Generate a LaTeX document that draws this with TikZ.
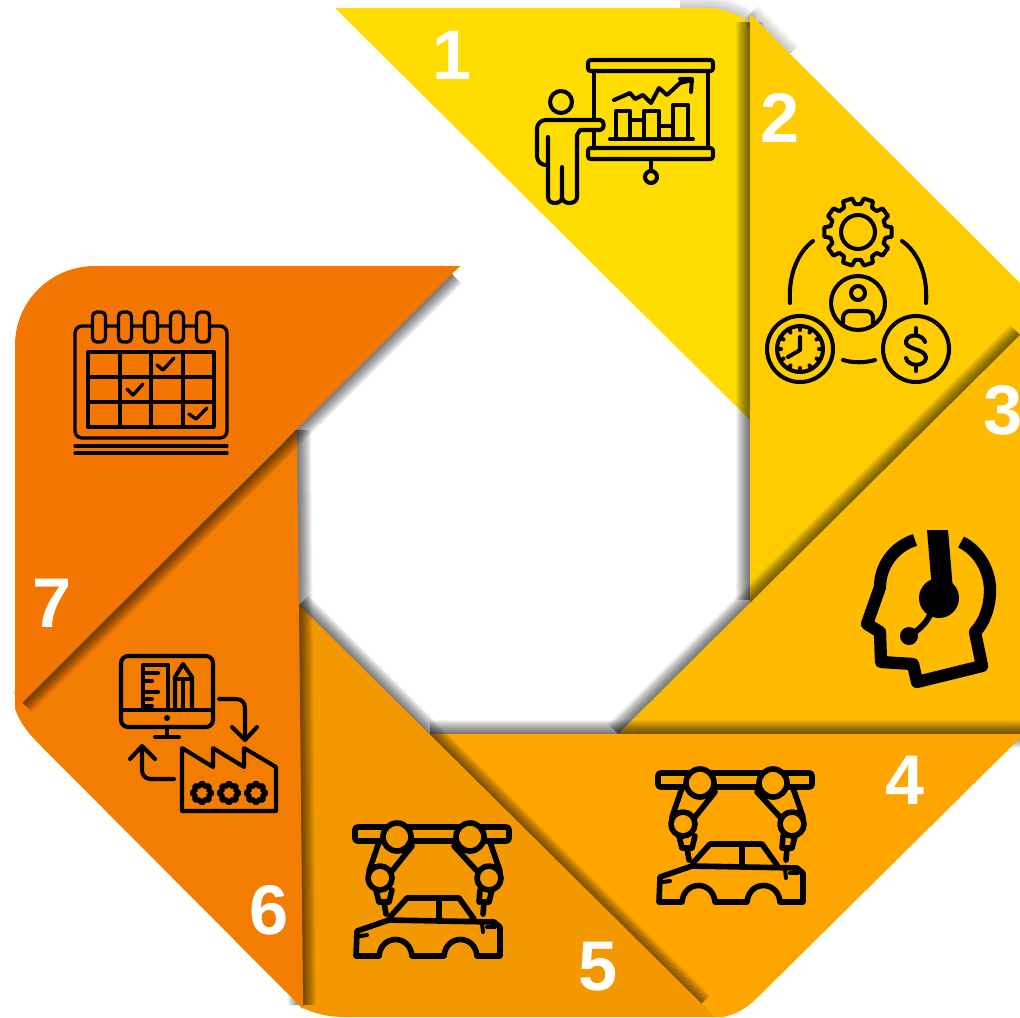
\documentclass[tikz,border=0pt]{standalone}
\usepackage{fontspec}
\usepackage{xcolor}
\usetikzlibrary{calc}
\setmainfont{Liberation Sans}
\definecolor{segyellow}{HTML}{FFDD00}
\definecolor{seggold}{HTML}{FFCC00}
\definecolor{segamber}{HTML}{FFBB00}
\definecolor{segorange}{HTML}{FFA500}
\definecolor{segdeep}{HTML}{F39800}
\definecolor{segdark}{HTML}{F27D00}
\definecolor{segrust}{HTML}{F27600}
\tikzstyle{numlabel} = [text=white, font=\fontsize{40}{40}\selectfont\bfseries, inner sep=0pt]
\tikzstyle{icon} = [draw=black, line width=2.3pt, line cap=round, line join=round]
\tikzstyle{iconthick} = [icon, line width=3.2pt]
\tikzstyle{iconthin} = [icon, line width=1.9pt]
\newcommand{\castshadow}[1]{\foreach \w in {2,4,...,28} {\draw[black, opacity=0.05, line width=\w*0.567pt] #1;}}
\newcommand{\softshadow}[1]{\foreach \w in {2,4,...,24} {\draw[black, opacity=0.02, line width=\w*0.567pt] #1;}}
\newcommand{\gearicon}[6]{
	\begin{scope}[shift={(#1,#2)}]
		\draw[#6] (-#5/3:#3) \foreach \a in {0,#5,...,359} { -- (\a-#5/3:#3) -- (\a-#5/4.5:#4) -- (\a+#5/4.5:#4) -- (\a+#5/3:#3) } -- cycle;
	\end{scope}
}
\newcommand{\robotcar}[3]{
	\begin{scope}[shift={(#1,#2)}]
		\draw[iconthick, rounded corners=1.5pt] (18,23) rectangle (172,37);
		\draw[iconthick] (42,38) -- (32,67) (75,42) -- (55,67) (117,42) -- (140,67) (153,38) -- (163,67);
		\draw[iconthick, fill=#3] (60,33) circle [radius=14];
		\draw[iconthick, fill=#3] (133,33) circle [radius=14];
		\draw[iconthick, fill=#3] (43,74) circle [radius=12];
		\draw[iconthick, fill=#3] (152,74) circle [radius=12];
		\draw[iconthick] (39,86) -- (42,98) -- (52,98) -- (55,86);
		\draw[iconthick] (143,86) -- (142,98) -- (152,98) -- (155,86);
		\draw[iconthick] (47,98) -- (49,110);
		\draw[iconthick] (147,98) -- (146,110);
		\draw[iconthick] (53,113) -- (70,94) -- (122,94) -- (137,115);
		\draw[iconthick] (102,95) -- (102,115);
		\draw[iconthick] (20,127) -- (52,116) -- (157,118) -- (163,123) -- (163,152) -- (140,152) .. controls (138,130) and (109,130) .. (107,152) -- (75,152) .. controls (73,130) and (44,130) .. (42,152) -- (19,152) -- cycle;
		\draw[icon] (23,132) -- (30,131);
		\draw[icon] (150,123) -- (158,123);
		\draw[icon] (145,119) -- (146,128);
	\end{scope}
}

\begin{document}
\begin{tikzpicture}[x=0.02cm,y=-0.02cm]
	\useasboundingbox (0,0) rectangle (1020,1017);
	% petals, each one lying over the one before
	\softshadow{(680,8) -- (705,8) .. controls (722,8) and (740,14) .. (750,24)}
	\fill[segyellow] (335,8) -- (705,8) .. controls (722,8) and (740,14) .. (752,24) -- (752,422) -- cycle;
	\castshadow{(750,22) -- (750,600)}
	\softshadow{(750,14) -- (790,54)}
	\fill[seggold] (750,14) -- (1020,283) -- (1020,340) -- (750,604) -- cycle;
	\castshadow{(618,734) -- (1020,335)}
	\fill[segamber] (618,734) -- (1020,335) -- (1020,736) -- cycle;
	\castshadow{(430,734) -- (1020,734)}
	\fill[segorange] (430,734) -- (1020,734) -- (1020,738) -- (760,995) .. controls (748,1007) and (738,1014) .. (723,1017) -- (712,1017) -- cycle;
	\castshadow{(299,605) -- (700,1005)}
	\fill[segdeep] (299,605) -- (715,1017) -- (345,1017) .. controls (330,1017) and (315,1014) .. (303,1008) -- cycle;
	\castshadow{(297,430) -- (302,1005)}
	\fill[segdark] (297,430) -- (303,1009) -- (45,750) .. controls (32,737) and (20,725) .. (15,708) -- cycle;
	\castshadow{(452,274) -- (22,702)}
	\fill[segrust] (460,266) -- (95,266) .. controls (50,266) and (15,302) .. (15,345) -- (15,710) -- cycle;

	% numbers
	\node (num1) [numlabel] at (452,55) {1};
	\node (num2) [numlabel] at (780,118) {2};
	\node (num3) [numlabel] at (1003,410) {3};
	\node (num4) [numlabel] at (905,780) {4};
	\node (num5) [numlabel] at (598,967) {5};
	\node (num6) [numlabel] at (269,910) {6};
	\node (num7) [numlabel] at (52,603) {7};

	% presenter and board
	\draw[icon, rounded corners=1.5pt] (588,60) rectangle (713,71);
	\draw[icon, rounded corners=1.5pt] (588,148) rectangle (713,159);
	\draw[icon] (594,71) -- (594,120) (594,130) -- (594,148) (708,71) -- (708,148);
	\draw[icon] (651,159) -- (651,171);
	\draw[icon] (651,177) circle [radius=6];
	\draw[icon] (561,102) circle [radius=11];
	\draw[icon, rounded corners=5pt] (600,120) -- (537,120) -- (537,165) -- (548,165);
	\draw[icon] (548,137) -- (548,197) .. controls (548,205) and (562,205) .. (562,197) -- (562,167);
	\draw[icon] (562,197) .. controls (562,205) and (577,205) .. (577,197) -- (577,135) -- (580,130) -- (600,130) .. controls (605,130) and (605,120) .. (600,120);
	\draw[icon] (610,139) -- (693,139);
	\draw[icon] (616,139) |- (630,111) -- (630,139);
	\draw[icon] (630,120) -| (644,139);
	\draw[icon] (644,139) |- (659,111) -- (659,139);
	\draw[icon] (659,126) -| (673,139);
	\draw[icon] (673,139) |- (688,105) -- (688,139);
	\draw[icon] (614,100) -- (630,93) -- (635,99) -- (643,95) -- (651,103) -- (659,88) -- (667,95) -- (680,83) -- (692,80);
	\draw[icon] (680,79) -- (692,79) -- (691,92);

	% gear, person, clock and coin
	\gearicon{858}{232}{28}{34}{36}{icon}
	\draw[icon] (858,232) circle [radius=17];
	\draw[icon] (813,241) .. controls (798,252) and (788,275) .. (790,303);
	\draw[icon] (902,241) .. controls (918,252) and (928,275) .. (926,303);
	\draw[icon] (843,360) .. controls (853,363) and (865,363) .. (875,360);
	\draw[icon] (858,303) circle [radius=27];
	\draw[icon] (858,293) circle [radius=7];
	\draw[icon] (843,323) -- (843,318) .. controls (843,314) and (846,311) .. (850,311) -- (866,311) .. controls (870,311) and (873,314) .. (873,318) -- (873,323);
	\draw[icon] (800,349) circle [radius=33];
	\draw[icon] (800,349) circle [radius=23];
	\foreach \a in {0,30,...,330} {\draw[icon] ($(800,349)+(\a:19)$) -- ($(800,349)+(\a:23)$);}
	\draw[icon] (800,337) -- (800,350) -- (788,357);
	\draw[icon] (916,349) circle [radius=33];
	\draw[icon] (925,342) .. controls (923,334) and (908,333) .. (906,341) .. controls (904,350) and (926,348) .. (926,358) .. controls (925,367) and (908,367) .. (906,358);
	\draw[icon] (916,328) -- (916,334) (916,365) -- (916,371);

	% headset
	\draw[black, line width=7pt, line join=round] (915,540) .. controls (895,546) and (880,565) .. (880,587) -- (867,624) -- (880,632) -- (881,662) -- (913,664) -- (917,682) -- (982,666) -- (975,632) .. controls (985,622) and (990,606) .. (990,590) .. controls (990,570) and (978,550) .. (961,542);
	\fill[black] (927,530) -- (948,530) -- (953,590) -- (932,590) -- cycle;
	\fill[black] (939,598) circle [radius=20];
	\draw[black, line width=3.4pt] (930,615) .. controls (925,625) and (918,630) .. (908,637);
	\fill[black] (909,636) circle [radius=9];

	% robot arms over cars
	\robotcar{640}{750}{segorange}
	\robotcar{337}{804}{segdeep}

	% monitor and factory
	\draw[icon, rounded corners=4pt] (121,656) rectangle (213,727);
	\draw[icon] (121,710) -- (213,710);
	\fill[black] (167,718) circle [radius=3];
	\draw[icon] (167,727) -- (167,737) (155,737) -- (179,737);
	\draw[icon] (143,710) -- (143,665) -- (168,665) -- (168,710);
	\draw[icon] (143,673) -- (158,673) (143,681) -- (152,681) (143,692) -- (158,692) (143,699) -- (152,699) (143,706) -- (152,706);
	\draw[icon] (175,710) -- (175,677) -- (183,664) -- (192,677) -- (192,710);
	\draw[icon] (175,679) -- (192,679) (183,682) -- (183,710);
	\draw[icon] (219,699) -- (236,699) .. controls (242,699) and (245,703) .. (245,708) -- (245,738);
	\draw[icon] (232,727) -- (245,740) -- (257,727);
	\draw[icon] (174,779) -- (151,779) .. controls (145,779) and (142,775) .. (142,770) -- (142,747);
	\draw[icon] (130,759) -- (142,746) -- (155,759);
	\draw[icon] (182,748) -- (213,767) -- (213,748) -- (244,767) -- (244,748) -- (276,767) -- (276,811) -- (182,811) -- cycle;
	\gearicon{202}{793}{7}{10}{45}{icon}
	\gearicon{229}{793}{7}{10}{45}{icon}
	\gearicon{256}{793}{7}{10}{45}{icon}

	% calendar
	\draw[iconthin, rounded corners=4pt] (75,438) -- (75,326) -- (227,326) -- (227,438) -- cycle;
	\foreach \x in {99,125,151,177,203} {\draw[iconthin, rounded corners=2.5pt, fill=segrust] (\x-6.5,312) rectangle (\x+6.5,342);}
	\draw[iconthin] (88,352) rectangle (214,427);
	\draw[iconthin] (120,352) -- (120,427) (151,352) -- (151,427) (183,352) -- (183,427);
	\draw[iconthin] (88,377) -- (214,377) (88,402) -- (214,402);
	\draw[iconthin] (157,365) -- (163,370) -- (174,358);
	\draw[iconthin] (127,389) -- (133,395) -- (143,384);
	\draw[iconthin] (189,414) -- (196,419) -- (207,408);
	\draw[iconthin] (75,446) -- (227,446) (75,453) -- (227,453);
\end{tikzpicture}
\end{document}
